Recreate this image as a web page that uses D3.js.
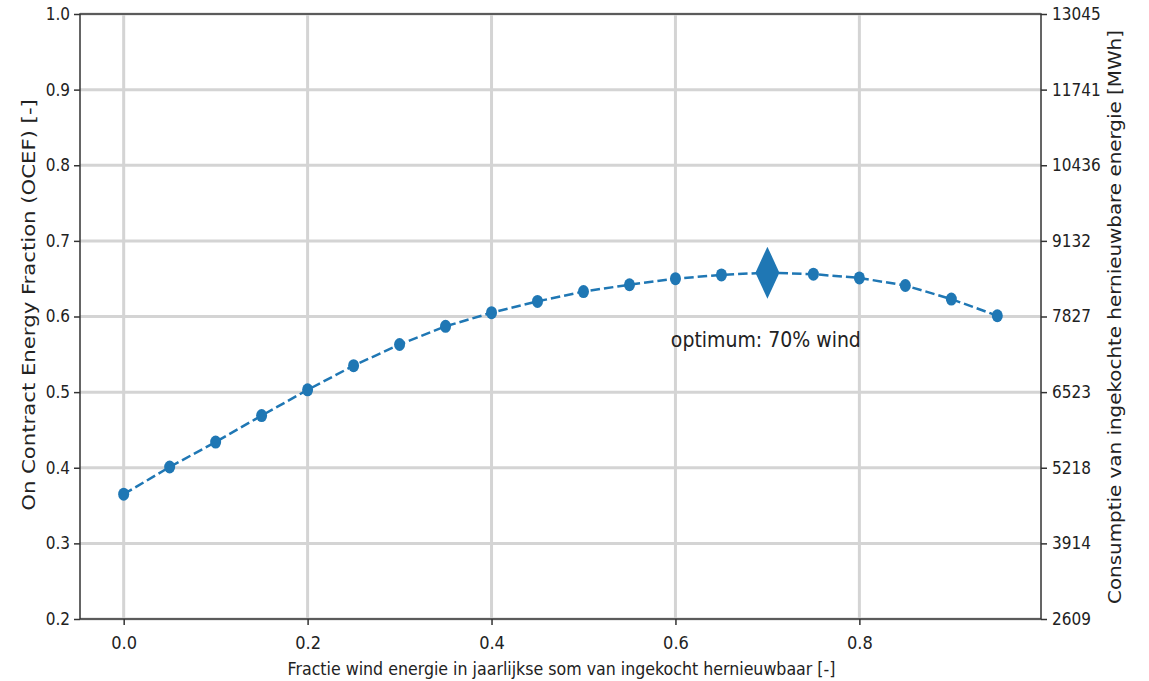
<!DOCTYPE html>
<html>
<head>
<meta charset="utf-8">
<script src="https://cdn.jsdelivr.net/npm/d3@7"></script>
<style>
  body { margin: 0; background: #fff; }
  svg text { fill: #222; font-family: 'DejaVu Sans', sans-serif; }
</style>
</head>
<body>
<div id="chart"></div>
<script>
// wind fraction and OCEF
let windFraction = [0.0, 0.05, 0.1, 0.15, 0.2, 0.25, 0.3, 0.35, 0.4, 0.45, 0.5,
                    0.55, 0.6, 0.65, 0.7, 0.75, 0.8, 0.85, 0.9, 0.95];
let ocef = [0.365, 0.401, 0.434, 0.469, 0.503, 0.535, 0.563, 0.587, 0.605, 0.620, 0.633,
            0.642, 0.650, 0.655, 0.658, 0.656, 0.651, 0.641, 0.623, 0.601];
let optimumIndex = 14;
let xTicks = [0.0, 0.2, 0.4, 0.6, 0.8];
let yTicks = [0.2, 0.3, 0.4, 0.5, 0.6, 0.7, 0.8, 0.9, 1.0];
let rightTickLabels = ["2609", "3914", "5218", "6523", "7827", "9132", "10436", "11741", "13045"];

const width = 1149, height = 681;
const margin = {left: 80, right: 108, top: 14, bottom: 62};
const plotW = width - margin.left - margin.right;
const plotH = height - margin.top - margin.bottom;
const blue = "#1f77b4";
const condensed = "'DejaVu Sans Condensed', 'DejaVu Sans', sans-serif";

let svg = d3.select("#chart")
    .append("svg")
    .attr("width", width)
    .attr("height", height)
    .append("g")
    .attr("transform", `translate(${margin.left},${margin.top})`);

let x = d3.scaleLinear().domain([-0.0475, 0.9975]).range([0, plotW]);
let y = d3.scaleLinear().domain([0.2, 1.0]).range([plotH, 0]);
// right axis shares the pixel positions of the left ticks
let y2 = d3.scaleLinear().domain([2609, 13045]).range([plotH, 0]);

// grid
svg.append("g")
    .selectAll("line")
    .data(xTicks)
    .enter().append("line")
    .attr("x1", d => x(d)).attr("x2", d => x(d))
    .attr("y1", 0).attr("y2", plotH)
    .attr("stroke", "#d4d4d4").attr("stroke-width", 3);
svg.append("g")
    .selectAll("line")
    .data(yTicks)
    .enter().append("line")
    .attr("x1", 0).attr("x2", plotW)
    .attr("y1", d => y(d)).attr("y2", d => y(d))
    .attr("stroke", "#d4d4d4").attr("stroke-width", 3);

// axes
let xAxis = svg.append("g")
    .attr("transform", `translate(0,${plotH})`)
    .call(d3.axisBottom(x).tickValues(xTicks).tickFormat(d3.format(".1f")).tickSize(6).tickPadding(11));
let yAxis = svg.append("g")
    .call(d3.axisLeft(y).tickValues(yTicks).tickFormat(d3.format(".1f")).tickSize(6).tickPadding(4));
let y2Values = yTicks.map(d => y2.invert(y(d)));
let yAxis2 = svg.append("g")
    .attr("transform", `translate(${plotW},0)`)
    .call(d3.axisRight(y2).tickValues(y2Values).tickFormat((d, i) => rightTickLabels[i]).tickSize(6).tickPadding(5));

[xAxis, yAxis, yAxis2].forEach(function (a) {
    a.select(".domain").remove();
    a.selectAll(".tick line").attr("stroke", "#333").attr("stroke-width", 1.5);
    a.selectAll(".tick text")
        .attr("font-family", null)
        .style("font-family", condensed)
        .style("font-size", "17px")
        .attr("fill", "#222");
});
xAxis.selectAll(".tick text").style("font-size", "18px");

// frame
svg.append("rect")
    .attr("x", 0).attr("y", 0)
    .attr("width", plotW).attr("height", plotH)
    .attr("fill", "none")
    .attr("stroke", "#333")
    .attr("stroke-width", 1.5);

// dashed line
let line = d3.line()
    .x((d, i) => x(windFraction[i]))
    .y(d => y(d));
svg.append("path")
    .datum(ocef)
    .attr("d", line)
    .attr("fill", "none")
    .attr("stroke", blue)
    .attr("stroke-width", 2.5)
    .attr("stroke-dasharray", "9.5,4");

// markers
let points = ocef.map((d, i) => ({x: windFraction[i], y: d, i: i}))
    .filter(d => d.i !== optimumIndex);
svg.selectAll("ellipse")
    .data(points)
    .enter().append("ellipse")
    .attr("cx", d => x(d.x))
    .attr("cy", d => y(d.y))
    .attr("rx", 5.5)
    .attr("ry", 6.5)
    .attr("fill", blue);

// optimum diamond
let ox = x(windFraction[optimumIndex]), oy = y(ocef[optimumIndex]);
svg.append("path")
    .attr("d", `M${ox},${oy - 26}L${ox + 12},${oy}L${ox},${oy + 26}L${ox - 12},${oy}Z`)
    .attr("fill", blue);

svg.append("text")
    .attr("x", x(0.595))
    .attr("y", y(0.56))
    .style("font-family", condensed)
    .style("font-size", "21px")
    .text("optimum: 70% wind");

// axis labels, stretched along their length to the span seen in the picture
function fittedLabel(txt, font, size, cx, cy, rot, span) {
    let t = svg.append("text")
        .style("text-anchor", "middle")
        .style("font-family", font)
        .style("font-size", size + "px")
        .text(txt);
    let k = span / t.node().getComputedTextLength();
    t.attr("transform", `translate(${cx},${cy})rotate(${rot})scale(${k},1)`);
    return t;
}

fittedLabel("Fractie wind energie in jaarlijkse som van ingekocht hernieuwbaar [-]",
    condensed, 18, plotW / 2 + 1, plotH + 56, 0, 548);
fittedLabel("On Contract Energy Fraction (OCEF) [-]",
    "'DejaVu Sans', sans-serif", 18, 35 - margin.left, 305 - margin.top, -90, 412);
fittedLabel("Consumptie van ingekochte hernieuwbare energie [MWh]",
    "'DejaVu Sans', sans-serif", 18, 1121 - margin.left, 317 - margin.top, -90, 574);
</script>
</body>
</html>
